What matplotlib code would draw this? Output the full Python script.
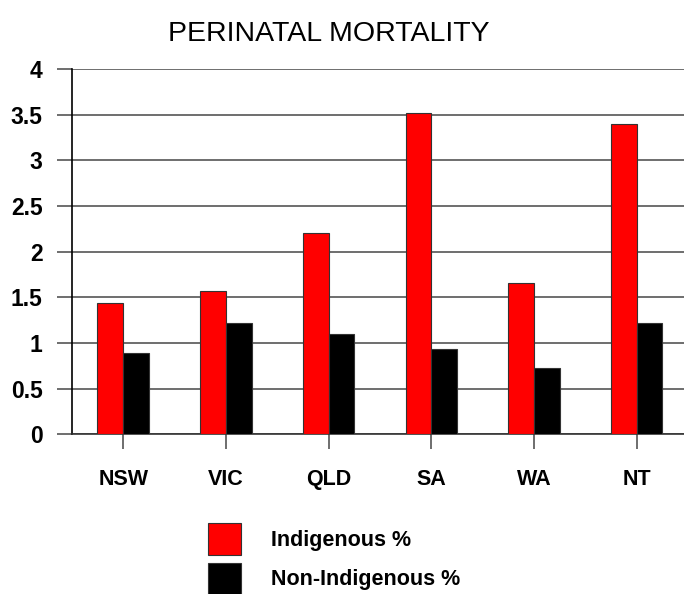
import numpy as np
import matplotlib.pyplot as plt

plt.rcParams['font.family'] = ['Liberation Sans', 'DejaVu Sans']

estados = ['NSW', 'VIC', 'QLD', 'SA', 'WA', 'NT']
indigena = [1.44, 1.57, 2.20, 3.52, 1.66, 3.40]
nao_indigena = [0.89, 1.22, 1.10, 0.93, 0.73, 1.22]
yticks = [0, 0.5, 1, 1.5, 2, 2.5, 3, 3.5, 4]
ytick_labels = ['0', '0.5', '1', '1.5', '2', '2.5', '3', '3.5', '4']


def main():
    fig = plt.figure(figsize=(6.84, 5.94), dpi=100)
    ax = fig.add_axes([0.105, 0.269, 0.895, 0.615])

    x = np.arange(len(estados))
    w = 0.25
    b1 = ax.bar(x - w / 2, indigena, w, color='#ff0000', edgecolor='#333333',
                linewidth=0.8, label='Indigenous %', zorder=3)
    b2 = ax.bar(x + w / 2, nao_indigena, w, color='#000000', edgecolor='#333333',
                linewidth=0.8, label='Non-Indigenous %', zorder=3)

    ax.set_xlim(-0.5, 5.46)
    ax.set_ylim(0, 4)
    ax.set_yticks(yticks)
    ax.set_yticklabels(ytick_labels, fontsize=16.5, fontweight='bold')
    ax.set_xticks(x)
    ax.set_xticklabels(estados, fontsize=15.5, fontweight='bold')
    ax.yaxis.grid(True, color='#555555', linewidth=1.2, zorder=0)

    for s in ['top', 'right']:
        ax.spines[s].set_visible(False)
    ax.spines['left'].set_linewidth(1.2)
    ax.spines['bottom'].set_linewidth(1.2)
    ax.spines['bottom'].set_color('#333333')

    ax.tick_params(axis='y', length=11, width=1.2, color='#555555', pad=10)
    ax.tick_params(axis='x', length=11, width=1.2, color='#555555', pad=14)

    # titulo
    fig.text(0.481, 0.943, 'PERINATAL MORTALITY', ha='center', va='center',
             fontsize=20.5)

    fig.legend(handles=[b1, b2], loc='upper left', bbox_to_anchor=(0.304, 0.12),
               frameon=False, prop={'size': 15.5, 'weight': 'bold'},
               handlelength=1.535, handleheight=1.906, handletextpad=1.39,
               labelspacing=0.37, borderpad=0, borderaxespad=0)

    fig.savefig('out.png', dpi=100)


if __name__ == "__main__":
    main()
